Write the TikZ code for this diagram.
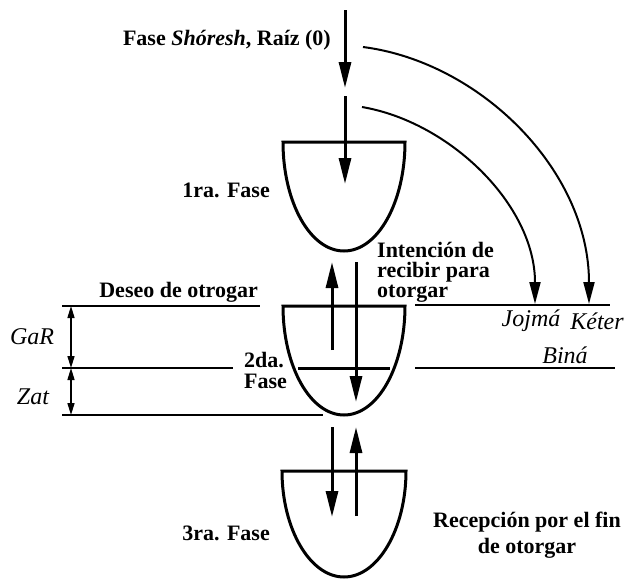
\documentclass[tikz,border=0pt]{standalone}
\usepackage{fontspec}
\setmainfont{Liberation Serif}
\usetikzlibrary{arrows.meta}
\begin{document}
\begin{tikzpicture}[x=1pt,y=-1pt,
  lbl/.style={font=\fontsize{22}{20}\selectfont\bfseries, inner sep=0pt},
  ilbl/.style={font=\fontsize{24}{24}\selectfont\itshape, inner sep=0pt},
  bowl/.style={line width=3pt, line join=miter},
  bigarrow/.style={line width=3pt, -{Triangle[length=26pt,width=12pt]}},
  curvearrow/.style={line width=2pt, -{Triangle[length=22pt,width=11pt]}},
  dimarrow/.style={line width=1.5pt, {Triangle[length=12pt,width=7pt]}-{Triangle[length=12pt,width=7pt]}},
  hline/.style={line width=2pt}]
\useasboundingbox (0,0) rectangle (635,579);

% bowls
\draw[bowl] (283,142) .. controls (283,202) and (310,251) .. (344,251) .. controls (378,251) and (405,202) .. (405,142) -- cycle;
\draw[bowl] (283,306) .. controls (283,366) and (310,415) .. (344,415) .. controls (378,415) and (405,366) .. (405,306) -- cycle;
\draw[bowl] (282,471) .. controls (282,529) and (310,577) .. (344,577) .. controls (378,577) and (406,529) .. (406,471) -- cycle;
\draw[line width=3pt] (298,368) -- (390,368);

% coordinates
\coordinate (a1s) at (345,10);  \coordinate (a1e) at (345,88);
\coordinate (a2s) at (345,96);  \coordinate (a2e) at (345,184);
\coordinate (upS) at (332,350); \coordinate (upE) at (332,262);
\coordinate (dnS) at (356,262); \coordinate (dnE) at (356,402);
\coordinate (d3s) at (332,427); \coordinate (d3e) at (332,517);
\coordinate (u3s) at (356,516); \coordinate (u3e) at (356,427);
\coordinate (c1s) at (363,47);  \coordinate (c1e) at (589,304);
\coordinate (c2s) at (362,107); \coordinate (c2e) at (535,304);
\coordinate (g1) at (71,306); \coordinate (g2) at (71,368); \coordinate (g3) at (71,415);

% vertical arrows
\draw[bigarrow] (a1s) -- (a1e);
\draw[bigarrow] (a2s) -- (a2e);
\draw[bigarrow] (upS) -- (upE);
\draw[bigarrow] (dnS) -- (dnE);
\draw[bigarrow] (d3s) -- (d3e);
\draw[bigarrow] (u3s) -- (u3e);

% curved arrows
\draw[curvearrow] (c1s) .. controls (480,62) and (589,170) .. (c1e);
\draw[curvearrow] (c2s) .. controls (450,122) and (535,205) .. (c2e);

% horizontal lines
\draw[hline] (62,306) -- (260,306);
\draw[hline] (62,368) -- (233,368);
\draw[hline] (62,415) -- (323,415);
\draw[hline] (415,305) -- (610,305);
\draw[hline] (415,368) -- (615,368);

% dimension arrows
\draw[dimarrow] (g1) -- (g2);
\draw[dimarrow] (g2) -- (g3);

% labels
\node[lbl, anchor=east] (t0) at (331,40) {Fase \textit{Shóresh}, Raíz (0)};
\node[lbl, anchor=east] (t1) at (270,190) {1ra. Fase};
\node[lbl, anchor=east] (t2) at (258,292) {Deseo de otrogar};
\node[lbl, anchor=west, align=left, font=\fontsize{22}{21}\selectfont\bfseries] (t3) at (244,370) {2da.\\Fase};
\node[lbl, anchor=west, align=left] (t4) at (377,272) {Intención de\\recibir para\\otorgar};
\node[ilbl] (gar) at (32,337) {GaR};
\node[ilbl] (zat) at (33,397) {Zat};
\node[ilbl] (joj) at (531,321) {Jojmá};
\node[ilbl] (ket) at (597,321) {Kéter};
\node[ilbl] (bin) at (565,355) {Biná};
\node[lbl, anchor=east] (t5) at (270,533) {3ra. Fase};
\node[lbl, align=center, font=\fontsize{22}{26}\selectfont\bfseries] (t6) at (527,535) {Recepción por el fin\\de otorgar};
\end{tikzpicture}
\end{document}
